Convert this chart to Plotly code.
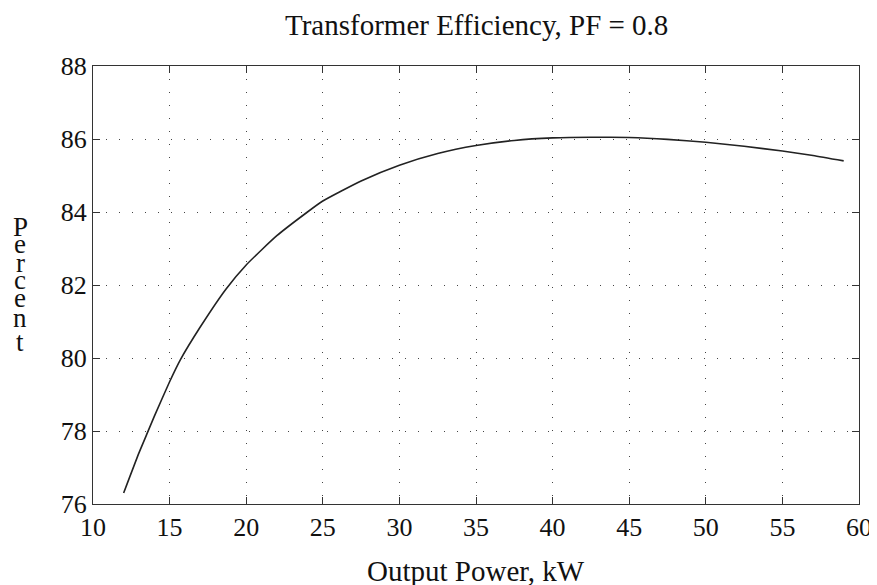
import plotly.graph_objects as go

output_kw = [12, 13, 13.5, 14, 15, 15.7, 17, 18.7, 20, 22, 24, 25, 27.5, 30, 32.5,
             35, 37.5, 40, 42.5, 45, 47.5, 50, 52.5, 55, 57, 59]
efficiency = [76.3, 77.4, 77.9, 78.4, 79.35, 79.95, 80.85, 81.9, 82.55, 83.35, 84.0, 84.3,
              84.85, 85.28, 85.6, 85.82, 85.96, 86.03, 86.05, 86.04, 85.99, 85.91,
              85.8, 85.67, 85.55, 85.4]
x_ticks = [10, 15, 20, 25, 30, 35, 40, 45, 50, 55, 60]
y_ticks = [76, 78, 80, 82, 84, 86, 88]
ylabel_letters = list("Percent")

# page body has an 8px margin; the figure fills the rest of the window
OFF = 8
WIN_W, WIN_H = 877, 585
W, H = WIN_W - OFF, WIN_H - OFF
PL, PR, PT, PB = 93, 859, 66, 504          # plot area in window pixels
L, T = PL - OFF, PT - OFF
R = WIN_W - PR
B = WIN_H - PB
pw, ph = PR - PL, PB - PT

FONT = "Liberation Serif, Times New Roman, serif"


def px_to_paper_x(px):
    return (px - PL) / pw


def px_to_paper_y(py):
    return (PB - py) / ph


fig = go.Figure()
fig.add_trace(go.Scatter(x=output_kw, y=efficiency, mode="lines",
                         line=dict(color="#222222", width=1.6, shape="spline", smoothing=0.5),
                         showlegend=False, hoverinfo="skip"))

axis_common = dict(showline=True, linecolor="#333333", linewidth=1, mirror="ticks",
                   ticks="inside", ticklen=7, tickcolor="#333333", tickwidth=1,
                   showgrid=True, gridcolor="#444444", gridwidth=1, griddash="1px,12px",
                   zeroline=False, tickfont=dict(family=FONT, size=26, color="#111111"))

fig.update_xaxes(range=[10, 60], tickvals=x_ticks, ticktext=[str(v) for v in x_ticks],
                 **axis_common)
fig.update_yaxes(range=[76, 88], tickvals=y_ticks, ticktext=[str(v) for v in y_ticks],
                 **axis_common)

fig.update_layout(
    width=W, height=H, plot_bgcolor="white", paper_bgcolor="white",
    margin=dict(l=L, r=R, t=T, b=B, autoexpand=False),
)

# title
fig.add_annotation(text="Transformer Efficiency, PF = 0.8", xref="paper", yref="paper",
                   x=px_to_paper_x(476), y=px_to_paper_y(25), xanchor="center",
                   yanchor="middle", showarrow=False,
                   font=dict(family=FONT, size=29, color="#111111"))

# x-axis title
fig.add_annotation(text="Output Power, kW", xref="paper", yref="paper",
                   x=px_to_paper_x(476), y=px_to_paper_y(571), xanchor="center",
                   yanchor="middle", showarrow=False,
                   font=dict(family=FONT, size=29, color="#111111"))

# stacked y-axis label
centers = [227, 244, 263, 280, 298, 318, 342]
for letter, yc in zip(ylabel_letters, centers):
    fig.add_annotation(text=letter, xref="paper", yref="paper",
                       x=px_to_paper_x(20), y=px_to_paper_y(yc),
                       xanchor="center", yanchor="middle", showarrow=False,
                       font=dict(family=FONT, size=27, color="#111111"))

fig.write_html("out.html")
